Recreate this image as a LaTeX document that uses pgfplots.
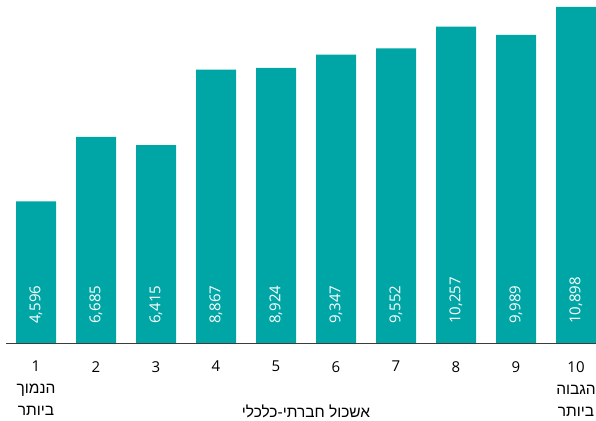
\documentclass[border=0pt]{standalone}
\usepackage{fontspec}
\setmainfont{Open Sans}
\newfontfamily\hebfont[Script=Hebrew]{Liberation Sans}
\TeXXeTstate=1
\usepackage{pgfplots}
\pgfplotsset{compat=1.18}
\definecolor{barteal}{RGB}{0,166,166}
\definecolor{axisgray}{RGB}{60,60,60}
\newcommand{\heb}[1]{{\hebfont\fontsize{15.5}{22}\selectfont\beginR #1\endR}}
\begin{document}
\begin{tikzpicture}
\useasboundingbox (0,-77.5pt) rectangle (596pt,343pt);
\begin{axis}[
  at={(0,0)}, anchor=origin,
  scale only axis,
  x=60pt, y=0.030831pt,
  xmin=0.4, xmax=10.3333,
  ymin=0, ymax=11125,
  axis lines=none,
  clip=false,
  /pgf/number format/assume math mode=true,
  /pgf/number format/1000 sep={,},
  xtick={1,...,10},
  major tick length=0pt,
]
\addplot[ybar, bar width=40pt, fill=barteal, draw=none] coordinates {
  (1,4596) (2,6685) (3,6415) (4,8867) (5,8924)
  (6,9347) (7,9552) (8,10257) (9,9989) (10,10898)
};
\addplot[draw=none, mark=none, point meta=explicit,
  nodes near coords,
  every node near coord/.append style={rotate=90, anchor=west, xshift=19pt, text=white,
     font=\fontsize{15}{18}\selectfont, inner sep=0pt}]
  coordinates {
  (1,0) [4596] (2,0) [6685] (3,0) [6415] (4,0) [8867] (5,0) [8924]
  (6,0) [9347] (7,0) [9552] (8,0) [10257] (9,0) [9989] (10,0) [10898]
};
\draw[axisgray, line width=1pt] (axis cs:0.5,0) -- (axis cs:10.3333,0);
\pgfplotsinvokeforeach{2,...,9}{
  \node[anchor=north, font=\fontsize{15}{18}\selectfont, inner sep=0pt] at (axis cs:#1,0) [yshift=-18pt] {#1};
}
\node[anchor=north, align=center, font=\fontsize{15}{22}\selectfont, inner sep=0pt] at (axis cs:1,0) [yshift=-18pt] {1\\\heb{הנמוך}\\\heb{ביותר}};
\node[anchor=north, align=center, font=\fontsize{15}{22}\selectfont, inner sep=0pt] at (axis cs:10,0) [yshift=-18pt] {10\\\heb{הגבוה}\\\heb{ביותר}};
\node[font=\fontsize{15}{18}\selectfont, inner sep=0pt] at (axis cs:5.5,0) [yshift=-68pt] {\heb{אשכול חברתי-כלכלי}};
\end{axis}
\end{tikzpicture}
\end{document}
